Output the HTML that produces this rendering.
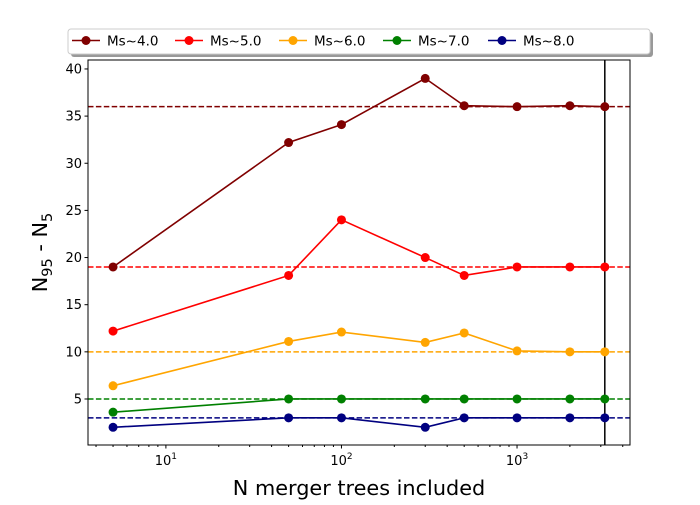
<!DOCTYPE html>
<html><head><meta charset="utf-8"><style>
body{margin:0;background:#fff;}
svg text{font-family:"DejaVu Sans","Liberation Sans",sans-serif;}
</style></head><body>
<svg id="chart" width="700" height="500" xmlns="http://www.w3.org/2000/svg"></svg>
<script>
const xValues = [5, 50, 100, 300, 500, 1000, 2000, 3162];
const seriesLabels = ["Ms~4.0", "Ms~5.0", "Ms~6.0", "Ms~7.0", "Ms~8.0"];
const ms4 = [19, 32.2, 34.1, 39, 36.1, 36, 36.1, 36];
const ms5 = [12.2, 18.1, 24, 20, 18.1, 19, 19, 19];
const ms6 = [6.4, 11.1, 12.1, 11, 12, 10.1, 10, 10];
const ms7 = [3.6, 5, 5, 5, 5, 5, 5, 5];
const ms8 = [2, 3, 3, 2, 3, 3, 3, 3];
const refLines = [36, 19, 10, 5, 3];
const yTicks = [5, 10, 15, 20, 25, 30, 35, 40];
const xTickExps = [1, 2, 3];
const vLineX = 3162;
const colors = ["#800000", "#ff0000", "#ffa500", "#008000", "#000080"];
const allSeries = [ms4, ms5, ms6, ms7, ms8];

const L=88,R=630,T=60,B=445;
const xMinL=Math.log10(3.6), xMaxL=Math.log10(4400);
const yMin=0.12, yMax=40.95;
const sx=v=>L+(Math.log10(v)-xMinL)/(xMaxL-xMinL)*(R-L);
const sy=v=>B-(v-yMin)/(yMax-yMin)*(B-T);
const svg=document.getElementById('chart');
const NS='http://www.w3.org/2000/svg';
function mk(tag,attrs,parent){const e=document.createElementNS(NS,tag);for(const k in attrs)e.setAttribute(k,attrs[k]);(parent||svg).appendChild(e);return e;}

refLines.forEach((v,i)=>{
 const l=mk('line',{x1:L,x2:R,y1:sy(v),y2:sy(v),stroke:colors[i],'stroke-width':1.5,'stroke-dasharray':'5.5,2.4'});
 
 
});
const vl=mk('line',{x1:sx(vLineX),x2:sx(vLineX),y1:T,y2:B,stroke:'#000','stroke-width':1.5});


allSeries.forEach((s,i)=>{
 const g=mk('g',{});
 
 
 mk('polyline',{points:s.map((v,j)=>sx(xValues[j])+','+sy(v)).join(' '),fill:'none',stroke:colors[i],'stroke-width':1.6},g);
 s.forEach((v,j)=>{
  const c=mk('circle',{cx:sx(xValues[j]),cy:sy(v),r:4.5,fill:colors[i]},g);
  
  
 });
});
const fr=mk('rect',{x:L,y:T,width:R-L,height:B-T,fill:'none',stroke:'#000','stroke-width':1});


yTicks.forEach(v=>{
 mk('line',{x1:L-3.5,x2:L,y1:sy(v),y2:sy(v),stroke:'#000'});
 const t=mk('text',{x:L-6,y:sy(v)+4.5,'text-anchor':'end','font-size':13});
 t.textContent=v;
 
 
});
for(let e=0;e<=3;e++){for(let m=1;m<10;m++){const v=m*Math.pow(10,e);if(v<3.6||v>4400)continue;
 const major=m===1;mk('line',{x1:sx(v),x2:sx(v),y1:B,y2:B+(major?3.5:2),stroke:'#000'});}}
xTickExps.forEach(e=>{
 const t=mk('text',{x:sx(Math.pow(10,e)),y:B+20,'text-anchor':'middle','font-size':13});
 t.innerHTML='10<tspan dy="-6" font-size="9">'+e+'</tspan>';
 
 
});
const xl=mk('text',{x:(L+R)/2,y:495,'text-anchor':'middle','font-size':20.8});
xl.textContent='N merger trees included';


const yl=mk('text',{x:0,y:0,'text-anchor':'middle','font-size':20.8,transform:'translate(47,'+((T+B)/2)+') rotate(-90)'});
yl.innerHTML='N<tspan dy="5" font-size="14.5">95</tspan><tspan dy="-5"> - N</tspan><tspan dy="5" font-size="14.5">5</tspan>';


const lg=mk('g',{});


mk('rect',{x:71,y:32,width:582,height:25,rx:3,fill:'#999'},lg);
mk('rect',{x:68,y:29,width:582,height:25,rx:3,fill:'#fff',stroke:'#ccc'},lg);
const lx=[72,175,279,383,488];
seriesLabels.forEach((s,i)=>{
 const g=mk('g',{},lg);
 
 
 mk('line',{x1:lx[i],x2:lx[i]+28,y1:40.5,y2:40.5,stroke:colors[i],'stroke-width':1.6},g);
 mk('circle',{cx:lx[i]+14,cy:40.5,r:4.5,fill:colors[i]},g);
 const t=mk('text',{x:lx[i]+35,y:45.5,'font-size':13.5},g);
 t.textContent=s;
});
</script>
</body></html>
